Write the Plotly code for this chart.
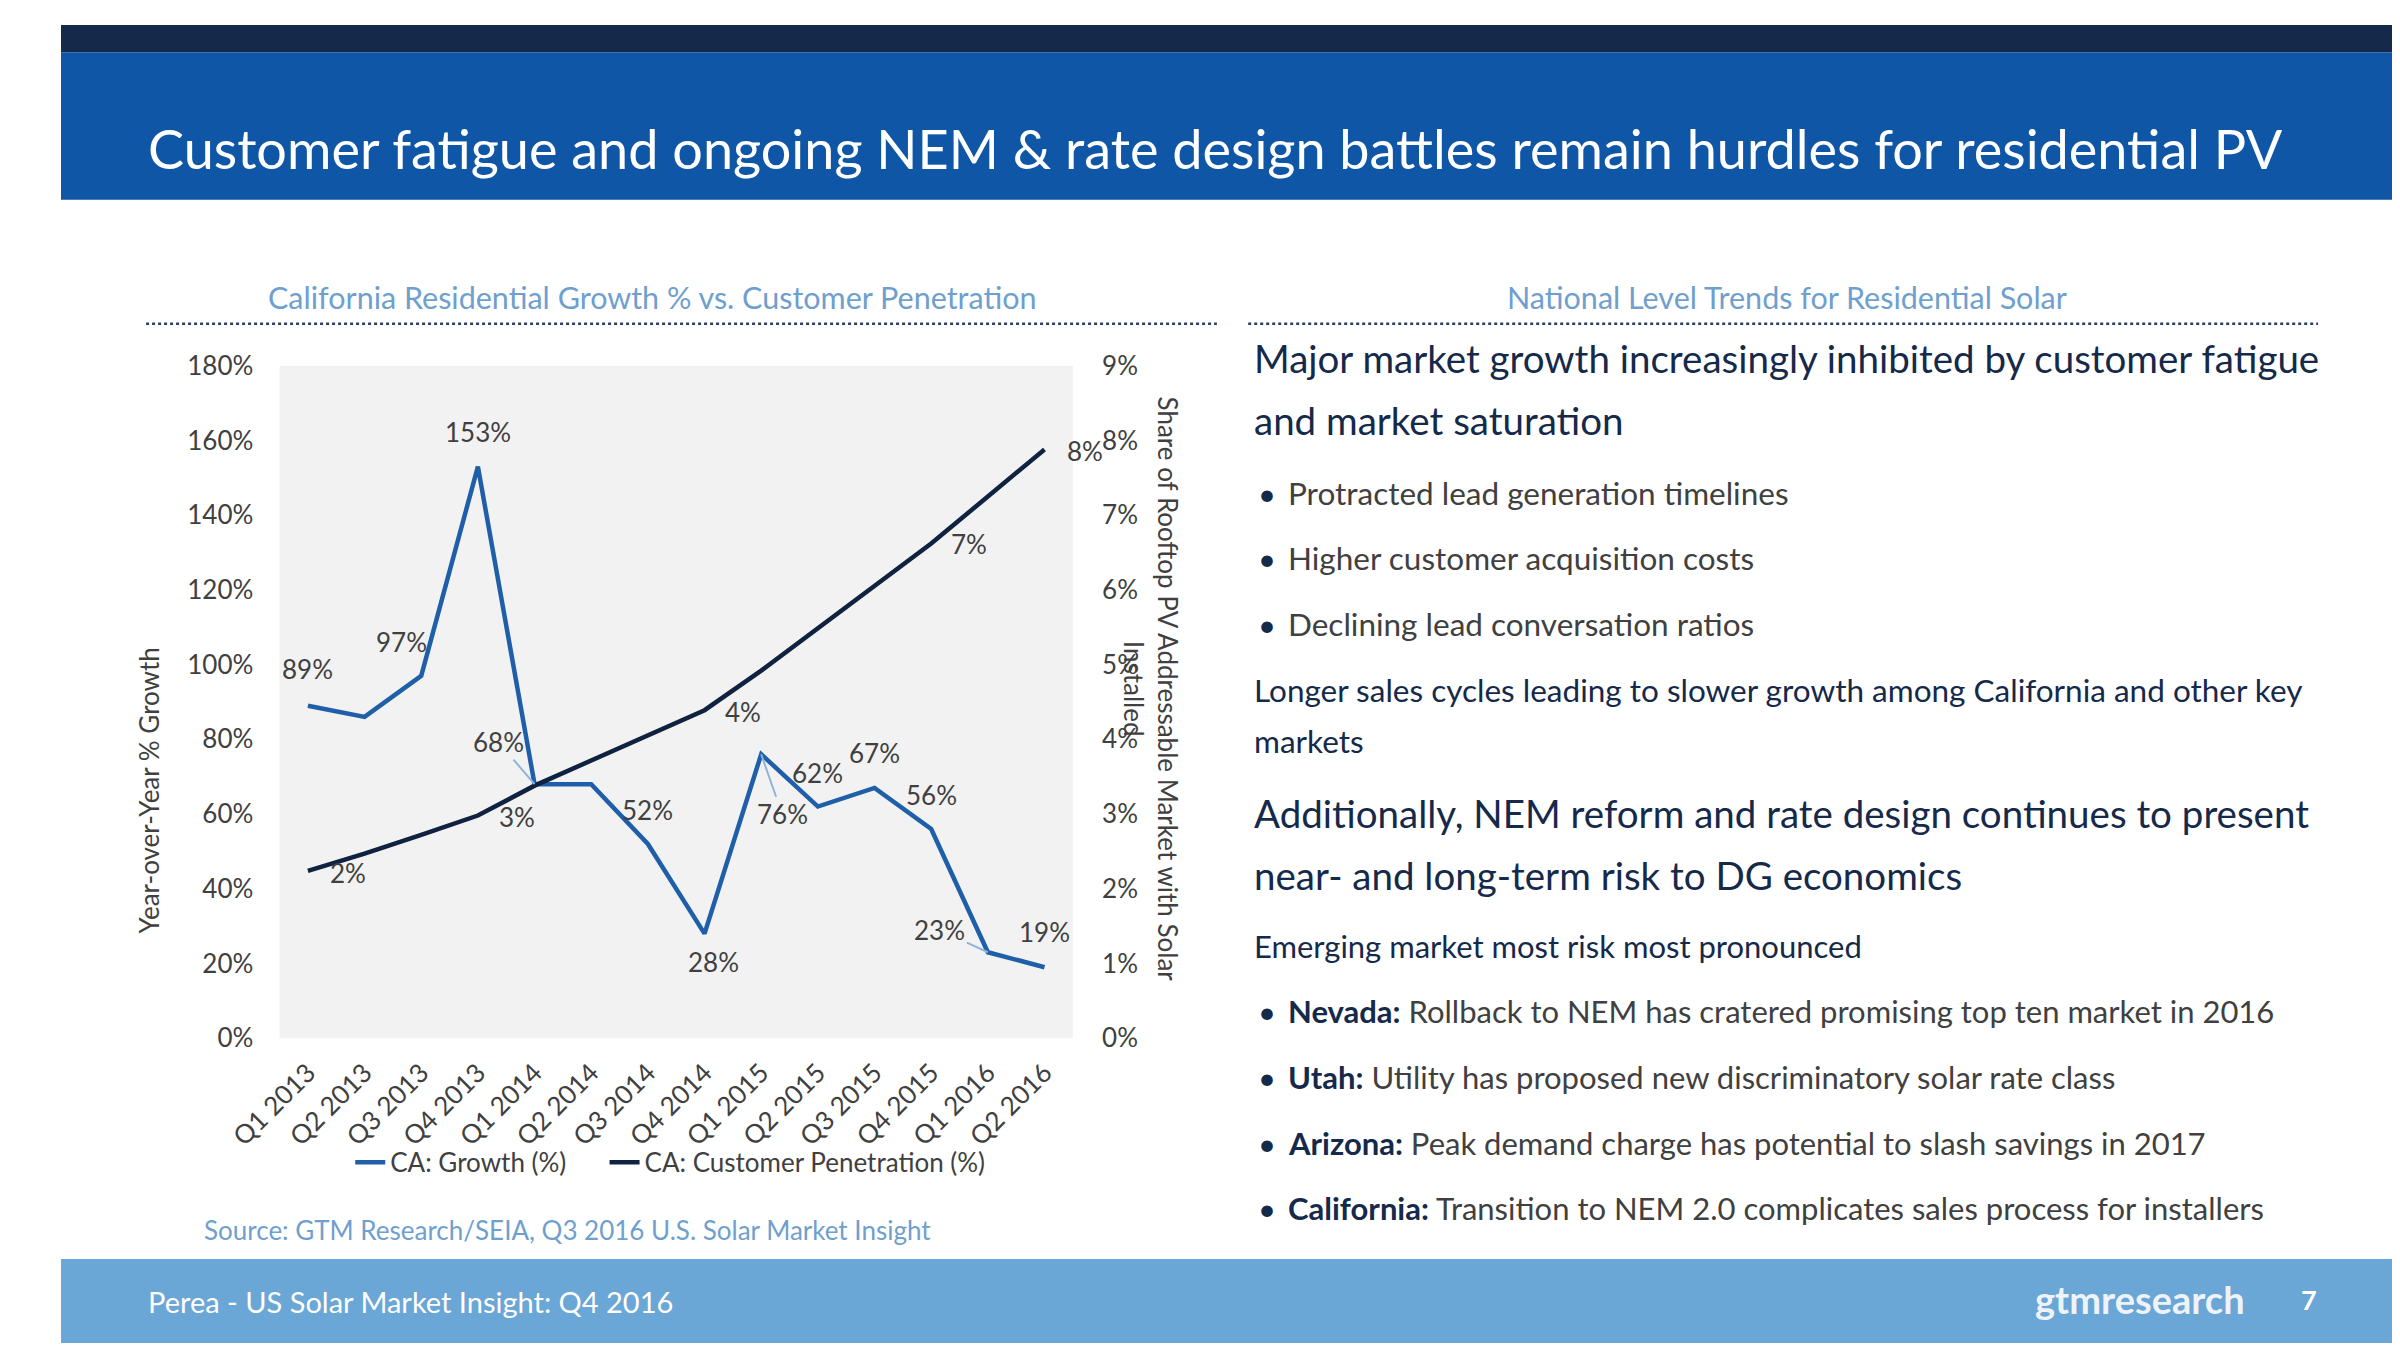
import plotly.graph_objects as go

W, H = 2400, 1350
FONT = "Lato"

quarters = [
    "Q1 2013", "Q2 2013", "Q3 2013", "Q4 2013",
    "Q1 2014", "Q2 2014", "Q3 2014", "Q4 2014",
    "Q1 2015", "Q2 2015", "Q3 2015", "Q4 2015",
    "Q1 2016", "Q2 2016",
]
growth_pct = [89, 86, 97, 153, 68, 68, 52, 28, 76, 62, 67, 56, 23, 19]
penetration_pct = [2.24, 2.47, 2.72, 2.98, 3.38, 3.72, 4.05, 4.39,
                   4.92, 5.49, 6.05, 6.62, 7.25, 7.88]

# which points carry a data label, and where it sits (pixel offsets)
growth_labels = {0: (0, 37), 2: (-20, 34), 3: (0, 35), 6: (0, 34), 7: (9, -28),
                 9: (0, 34), 10: (0, 35), 11: (0, 34), 13: (0, 35)}
growth_leader_labels = {4: (-36, -42), 8: (21, 60), 12: (-48, -22)}
penetration_labels = {0: (40, -2), 4: (-18, -31), 7: (38, -2), 11: (38, 0), 13: (40, -2)}

bullets_top = [
    "Protracted lead generation timelines",
    "Higher customer acquisition costs",
    "Declining lead conversation ratios",
]
bullets_bottom = [
    ("Nevada:", "Rollback to NEM has cratered promising top ten market in 2016"),
    ("Utah:", "Utility has proposed new discriminatory solar rate class"),
    ("Arizona:", "Peak demand charge has potential to slash savings in 2017"),
    ("California:", "Transition to NEM 2.0 complicates sales process for installers"),
]

NAVY = "#15294a"
BLUE_BAND = "#0f56a6"
FOOTER = "#6aa6d6"
GROWTH_COLOR = "#1f5ea8"
PEN_COLOR = "#0f2240"
LIGHT_BLUE_TEXT = "#6f9fcf"
GRAY = "#404040"
LEADER = "#8fb4dc"
NBSP = "&nbsp;" * 5


def px(x):
    return x / W


def py(y):
    return 1 - y / H


def text(x, y, s, size, color, xanchor="left", **kw):
    return dict(x=px(x), y=py(y), xref="paper", yref="paper", text=s, showarrow=False,
                xanchor=xanchor, yanchor="middle",
                font=dict(family=FONT, size=size, color=color), **kw)


fig = go.Figure()
fig.add_trace(go.Scatter(x=quarters, y=growth_pct, mode="lines", name="CA: Growth (%)" + NBSP,
                         line=dict(color=GROWTH_COLOR, width=4.5)))
fig.add_trace(go.Scatter(x=quarters, y=penetration_pct, mode="lines", yaxis="y2",
                         name="CA: Customer Penetration (%)",
                         line=dict(color=PEN_COLOR, width=4.5)))

annotations = []
for i, (dx, dy) in growth_labels.items():
    annotations.append(dict(x=quarters[i], y=growth_pct[i], xref="x", yref="y",
                            text="%d%%" % round(growth_pct[i]), showarrow=False,
                            xshift=dx, yshift=dy, font=dict(family=FONT, size=26, color=GRAY)))
for i, (ax, ay) in growth_leader_labels.items():
    annotations.append(dict(x=quarters[i], y=growth_pct[i], xref="x", yref="y",
                            text="%d%%" % round(growth_pct[i]), showarrow=True, arrowhead=0,
                            arrowwidth=2, arrowcolor=LEADER, ax=ax, ay=ay,
                            font=dict(family=FONT, size=26, color=GRAY)))
for i, (dx, dy) in penetration_labels.items():
    annotations.append(dict(x=quarters[i], y=penetration_pct[i], xref="x", yref="y2",
                            text="%d%%" % round(penetration_pct[i]), showarrow=False,
                            xshift=dx, yshift=dy, font=dict(family=FONT, size=26, color=GRAY)))

# axis titles
annotations.append(text(90, 784, "Year-over-Year % Growth", 26, GRAY, xanchor="center", textangle=-90))
annotations.append(text(1115, 680, "Share of Rooftop PV Addressable Market with Solar<br>Installed",
                        26, GRAY, xanchor="center", textangle=90))

# header / footer text
annotations.append(text(87, 127, "Customer fatigue and ongoing NEM &amp; rate design battles remain hurdles for residential PV",
                        54, "white"))
annotations.append(text(605, 279, "California Residential Growth % vs. Customer Penetration", 30.5,
                        LIGHT_BLUE_TEXT, xanchor="center"))
annotations.append(text(1765, 279, "National Level Trends for Residential Solar", 30.5,
                        LIGHT_BLUE_TEXT, xanchor="center"))
annotations.append(text(144, 1234, "Source: GTM Research/SEIA, Q3 2016 U.S. Solar Market Insight", 26,
                        LIGHT_BLUE_TEXT))
annotations.append(text(87, 1307, "Perea - US Solar Market Insight: Q4 2016", 29, "white"))
annotations.append(text(2235, 1305, "<b>gtmresearch</b>", 38, "#eef3f8", xanchor="right"))
annotations.append(text(2299, 1305, "<b>7</b>", 27, "white", xanchor="center"))

# right-hand text panel
annotations.append(text(1218, 341, "Major market growth increasingly inhibited by customer fatigue", 38.5, NAVY))
annotations.append(text(1218, 405, "and market saturation", 38.5, NAVY))
for k, s in enumerate(bullets_top):
    y = 479 + k * 67.4
    annotations.append(text(1222, y, "•", 31, NAVY))
    annotations.append(text(1253, y, s, 31.5, GRAY))
annotations.append(text(1218, 681, "Longer sales cycles leading to slower growth among California and other key", 31.5, NAVY))
annotations.append(text(1218, 733, "markets", 31.5, NAVY))
annotations.append(text(1218, 807, "Additionally, NEM reform and rate design continues to present", 38.5, NAVY))
annotations.append(text(1218, 871, "near- and long-term risk to DG economics", 38.5, NAVY))
annotations.append(text(1218, 943, "Emerging market most risk most pronounced", 31, NAVY))
for k, (state, s) in enumerate(bullets_bottom):
    y = 1010 + k * 67.4
    annotations.append(text(1222, y, "•", 31, NAVY))
    annotations.append(text(1253, y, "<b>%s</b> <span style='color:%s'>%s</span>" % (state, GRAY, s), 31, NAVY))

shapes = [
    dict(type="rect", xref="paper", yref="paper", x0=0, x1=1, y0=py(28), y1=1,
         fillcolor=NAVY, line_width=0, layer="below"),
    dict(type="rect", xref="paper", yref="paper", x0=0, x1=1, y0=py(179), y1=py(28),
         fillcolor=BLUE_BAND, line_width=0, layer="below"),
    dict(type="rect", xref="paper", yref="paper", x0=0, x1=1, y0=0, y1=py(1264),
         fillcolor=FOOTER, line_width=0, layer="below"),
    dict(type="line", xref="paper", yref="paper", x0=px(87), x1=px(1182), y0=py(306), y1=py(306),
         line=dict(color="#2a3f66", width=2.5, dash="dot")),
    dict(type="line", xref="paper", yref="paper", x0=px(1214), x1=px(2308), y0=py(306), y1=py(306),
         line=dict(color="#2a3f66", width=2.5, dash="dot")),
]

fig.update_layout(
    width=W, height=H, autosize=False,
    margin=dict(l=0, r=0, t=0, b=0),
    paper_bgcolor="white",
    plot_bgcolor="#f2f2f2",
    font=dict(family=FONT, size=26, color=GRAY),
    showlegend=True,
    legend=dict(orientation="h", x=px(623), y=py(1165), xanchor="center", yanchor="middle",
                font=dict(family=FONT, size=26, color=GRAY), bgcolor="rgba(0,0,0,0)"),
    xaxis=dict(domain=[px(223.5), px(1034.7)], type="category", range=[-0.5, 13.5],
               tickangle=-45, showgrid=False, zeroline=False, showline=False,
               ticks="outside", ticklen=8, tickcolor="rgba(0,0,0,0)",
               tickfont=dict(family=FONT, size=26, color=GRAY)),
    yaxis=dict(domain=[py(1037.8), py(349)], range=[0, 180], dtick=20, ticksuffix="%",
               showgrid=False, zeroline=False, showline=False,
               ticks="outside", ticklen=20, tickcolor="rgba(0,0,0,0)",
               tickfont=dict(family=FONT, size=26, color=GRAY)),
    yaxis2=dict(overlaying="y", side="right", range=[0, 9], dtick=1, ticksuffix="%",
                showgrid=False, zeroline=False, showline=False,
                ticks="outside", ticklen=23, tickcolor="rgba(0,0,0,0)",
                tickfont=dict(family=FONT, size=26, color=GRAY)),
    shapes=shapes,
    annotations=annotations,
)

fig.write_html("out.html")
